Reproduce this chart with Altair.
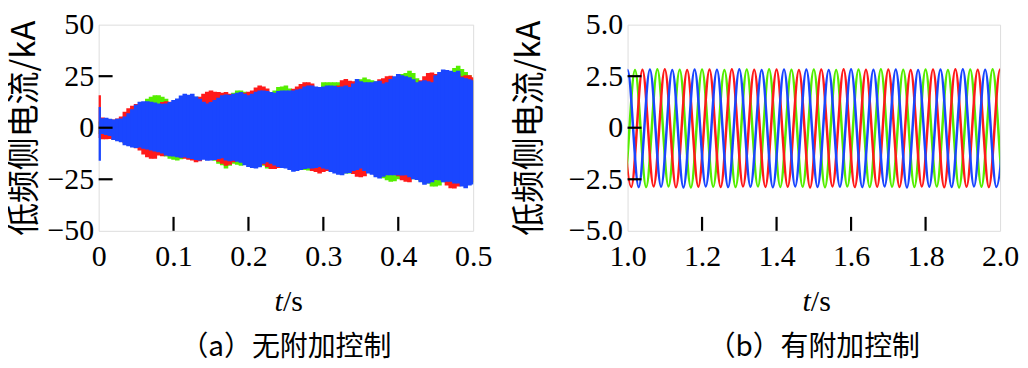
import altair as alt
import pandas as pd

# ---------------- panel (a): envelope of each phase, sampled every 5 ms (kA)
t_a = [0.000, 0.005, 0.010, 0.015, 0.020, 0.025, 0.030, 0.035, 0.040, 0.045,
       0.050, 0.055, 0.060, 0.065, 0.070, 0.075, 0.080, 0.085, 0.090, 0.095,
       0.100, 0.105, 0.110, 0.115, 0.120, 0.125, 0.130, 0.135, 0.140, 0.145,
       0.150, 0.155, 0.160, 0.165, 0.170, 0.175, 0.180, 0.185, 0.190, 0.195,
       0.200, 0.205, 0.210, 0.215, 0.220, 0.225, 0.230, 0.235, 0.240, 0.245,
       0.250, 0.255, 0.260, 0.265, 0.270, 0.275, 0.280, 0.285, 0.290, 0.295,
       0.300, 0.305, 0.310, 0.315, 0.320, 0.325, 0.330, 0.335, 0.340, 0.345,
       0.350, 0.355, 0.360, 0.365, 0.370, 0.375, 0.380, 0.385, 0.390, 0.395,
       0.400, 0.405, 0.410, 0.415, 0.420, 0.425, 0.430, 0.435, 0.440, 0.445,
       0.450, 0.455, 0.460, 0.465, 0.470, 0.475, 0.480, 0.485, 0.490, 0.495,
       0.500]

blue_hi_a = [10.0, 4.6, 4.8, 4.4, 4.0, 4.3, 4.5, 5.5, 7.0, 9.0,
             11.2, 12.6, 12.9, 12.9, 12.6, 12.2, 11.8, 11.6, 11.8, 12.5,
             13.4, 14.2, 15.6, 16.5, 16.0, 16.5, 15.2, 14.1, 12.6, 11.8,
             12.5, 13.5, 14.5, 15.7, 16.1, 16.0, 16.5, 17.0, 17.3, 16.5,
             15.7, 16.5, 17.5, 18.1, 18.0, 17.8, 17.3, 17.0, 17.8, 18.1,
             18.1, 18.0, 18.1, 18.5, 18.9, 20.0, 20.5, 20.5, 20.0, 19.7,
             20.0, 20.5, 20.5, 20.3, 19.8, 20.0, 20.5, 19.7, 21.5, 23.6,
             22.5, 22.0, 22.0, 22.0, 22.5, 22.8, 21.5, 22.0, 23.6, 25.0,
             26.0, 25.5, 25.0, 24.5, 23.5, 22.0, 22.5, 23.0, 22.5, 22.0,
             25.5, 27.0, 28.3, 28.0, 27.6, 27.0, 27.6, 24.5, 24.0, 23.5,
             23.0]
blue_lo_a = [-16.0, -3.0, -3.5, -4.0, -6.0, -6.5, -7.0, -8.5, -9.0, -9.6,
             -9.8, -9.6, -10.2, -10.6, -11.1, -11.5, -11.9, -12.5, -13.5, -13.8,
             -14.0, -14.3, -14.5, -14.3, -14.8, -15.2, -15.6, -15.9, -15.5, -16.0,
             -15.9, -15.6, -15.2, -14.8, -15.9, -16.2, -16.0, -16.5, -17.0, -18.2,
             -19.0, -19.5, -19.8, -19.2, -17.5, -16.7, -17.5, -18.3, -19.0, -19.5,
             -19.8, -20.5, -21.4, -21.0, -20.5, -20.0, -19.8, -19.8, -19.5, -19.0,
             -19.8, -20.2, -21.5, -22.2, -22.8, -23.0, -22.2, -22.0, -21.0, -20.5,
             -19.8, -21.0, -22.2, -22.8, -24.0, -24.6, -23.8, -23.0, -23.0, -23.0,
             -23.0, -23.2, -23.0, -24.0, -25.0, -25.4, -26.5, -27.7, -27.0, -26.5,
             -25.4, -25.5, -26.5, -26.2, -26.2, -27.0, -27.0, -28.5, -29.3, -28.0,
             -27.5]
red_hi_a = [15.7, 5.0, 4.5, 4.2, 4.0, 4.5, 5.5, 7.8, 9.4, 10.7,
            11.5, 11.0, 11.5, 11.2, 11.0, 11.0, 11.5, 12.5, 12.8, 12.6,
            12.0, 13.0, 14.0, 14.5, 14.5, 15.0, 14.5, 15.0, 16.5, 17.5,
            18.1, 17.5, 17.3, 17.0, 17.3, 16.5, 15.0, 15.5, 16.0, 17.0,
            17.5, 18.1, 19.5, 20.5, 20.0, 19.0, 16.5, 16.0, 16.5, 17.0,
            17.0, 17.5, 18.9, 20.0, 21.2, 22.0, 22.0, 21.5, 19.0, 18.5,
            19.0, 19.5, 19.5, 19.0, 20.5, 23.0, 23.6, 22.8, 22.5, 22.5,
            21.0, 21.0, 21.0, 21.0, 22.0, 23.5, 24.0, 25.0, 25.2, 24.0,
            24.5, 24.0, 24.0, 23.5, 22.5, 21.5, 23.0, 25.0, 26.5, 26.8,
            26.0, 25.5, 27.0, 26.5, 26.0, 26.0, 26.0, 25.0, 25.5, 25.5,
            24.5]
red_lo_a = [-5.0, -5.6, -5.6, -5.5, -5.8, -6.0, -6.5, -7.5, -8.5, -9.0,
            -10.0, -11.1, -13.0, -14.3, -15.1, -15.0, -13.5, -13.8, -13.5, -13.0,
            -13.0, -13.5, -14.5, -15.0, -15.5, -15.9, -16.7, -16.2, -15.0, -15.5,
            -15.0, -14.5, -16.5, -17.5, -18.5, -18.0, -16.8, -16.0, -16.0, -17.0,
            -18.0, -18.5, -18.5, -18.0, -18.0, -19.0, -20.0, -20.0, -19.5, -19.0,
            -19.5, -19.5, -20.0, -20.0, -19.5, -19.0, -19.0, -21.0, -21.5, -22.2,
            -21.5, -21.0, -20.5, -21.0, -21.5, -22.0, -21.5, -21.0, -22.5, -23.8,
            -24.0, -23.5, -21.5, -22.0, -23.0, -23.5, -23.0, -22.5, -22.5, -22.5,
            -23.5, -25.5, -26.2, -26.5, -24.5, -24.5, -25.5, -26.5, -26.0, -25.5,
            -25.0, -25.0, -26.0, -28.0, -29.3, -29.5, -28.5, -27.5, -27.5, -27.0,
            -26.5]
green_hi_a = [3.0, 3.5, 4.0, 4.0, 3.8, 4.0, 4.2, 5.0, 6.5, 8.5,
              10.5, 11.5, 12.5, 14.0, 15.0, 15.7, 15.7, 15.0, 14.0, 12.0,
              12.5, 13.0, 14.0, 14.5, 14.5, 14.0, 15.0, 14.8, 13.0, 12.5,
              13.0, 14.0, 14.0, 15.0, 15.5, 15.5, 17.0, 18.1, 18.1, 17.5,
              16.0, 16.0, 17.0, 17.5, 17.0, 17.0, 17.0, 18.0, 19.7, 20.0,
              20.5, 19.0, 18.0, 18.0, 18.5, 19.0, 19.5, 19.5, 19.5, 19.5,
              22.0, 22.0, 22.0, 22.0, 22.0, 21.0, 20.5, 20.5, 21.0, 22.5,
              23.5, 24.4, 23.5, 23.0, 22.5, 22.0, 21.5, 21.5, 22.5, 24.0,
              25.0, 26.0, 26.5, 27.6, 26.5, 24.0, 22.0, 22.0, 22.5, 23.0,
              25.0, 26.0, 27.0, 27.0, 27.5, 29.0, 30.0, 28.5, 27.0, 25.5,
              24.0]
green_lo_a = [-3.0, -4.0, -4.5, -5.0, -5.5, -6.0, -6.5, -7.5, -8.5, -9.0,
              -9.5, -9.5, -10.0, -10.5, -11.0, -11.5, -12.0, -12.5, -14.0, -15.1,
              -15.5, -15.9, -15.3, -14.0, -14.5, -15.0, -15.0, -15.5, -15.0, -15.5,
              -15.5, -16.0, -17.5, -18.2, -19.8, -18.5, -17.5, -18.0, -18.5, -17.5,
              -18.0, -18.5, -18.5, -18.0, -18.5, -19.8, -19.8, -19.0, -18.5, -19.0,
              -19.0, -19.5, -20.0, -20.0, -20.0, -20.5, -20.8, -20.5, -20.5, -20.5,
              -21.0, -21.0, -20.5, -21.0, -21.5, -22.0, -22.2, -22.2, -21.5, -21.0,
              -21.5, -22.0, -22.0, -22.5, -23.0, -23.5, -24.5, -25.5, -26.2, -26.0,
              -25.0, -24.5, -25.0, -25.0, -25.0, -25.0, -26.0, -27.0, -27.0, -28.5,
              -28.5, -28.0, -26.5, -26.5, -27.0, -27.5, -27.5, -28.0, -28.0, -27.5,
              -27.0]

# ---------------- panel (b): peaks / troughs of each phase (s, kA)
blue_t_b = [0.97, 1.00, 1.03, 1.06, 1.09, 1.12, 1.15, 1.18, 1.21, 1.24, 1.27, 1.30,
            1.33, 1.36, 1.39, 1.42, 1.45, 1.48, 1.51, 1.54, 1.57, 1.60, 1.63, 1.66,
            1.69, 1.72, 1.75, 1.78, 1.81, 1.84, 1.87, 1.90, 1.93, 1.96, 1.99, 2.02]
blue_v_b = [-2.85, 2.80, -2.88, 2.82, -2.86, 2.80, -2.90, 2.83, -2.85, 2.81, -2.88, 2.84,
            -2.86, 2.80, -2.89, 2.82, -2.85, 2.83, -2.87, 2.80, -2.86, 2.84, -2.88, 2.81,
            -2.85, 2.83, -2.90, 2.80, -2.86, 2.82, -2.88, 2.84, -2.85, 2.81, -2.87, 2.83]
green_t_b = [0.96, 0.99, 1.02, 1.05, 1.08, 1.11, 1.14, 1.17, 1.20, 1.23, 1.26, 1.29,
             1.32, 1.35, 1.38, 1.41, 1.44, 1.47, 1.50, 1.53, 1.56, 1.59, 1.62, 1.65,
             1.68, 1.71, 1.74, 1.77, 1.80, 1.83, 1.86, 1.89, 1.92, 1.95, 1.98, 2.01, 2.04]
green_v_b = [2.82, -2.86, 2.80, -2.88, 2.84, -2.85, 2.81, -2.90, 2.83, -2.86, 2.80, -2.88,
             2.82, -2.85, 2.84, -2.87, 2.81, -2.86, 2.83, -2.89, 2.80, -2.85, 2.82, -2.88,
             2.84, -2.86, 2.81, -2.87, 2.83, -2.85, 2.80, -2.90, 2.82, -2.86, 2.84, -2.88, 2.81]
red_t_b = [0.98, 1.01, 1.04, 1.07, 1.10, 1.13, 1.16, 1.19, 1.22, 1.25, 1.28, 1.31,
           1.34, 1.37, 1.40, 1.43, 1.46, 1.49, 1.52, 1.55, 1.58, 1.61, 1.64, 1.67,
           1.70, 1.73, 1.76, 1.79, 1.82, 1.85, 1.88, 1.91, 1.94, 1.97, 2.00, 2.03]
red_v_b = [2.83, -2.87, 2.81, -2.85, 2.84, -2.89, 2.80, -2.86, 2.82, -2.88, 2.84, -2.85,
           2.81, -2.87, 2.83, -2.86, 2.80, -2.90, 2.82, -2.85, 2.84, -2.88, 2.81, -2.86,
           2.83, -2.87, 2.80, -2.85, 2.82, -2.89, 2.84, -2.86, 2.81, -2.88, 2.83, -2.85]

# ---------------- axes / text
xa_labels = [0, 0.1, 0.2, 0.3, 0.4, 0.5]
ya_labels = [-50, -25, 0, 25, 50]
xb_labels = [1.0, 1.2, 1.4, 1.6, 1.8, 2.0]
yb_labels = [-5.0, -2.5, 0, 2.5, 5.0]
xa_ticks = [0.1, 0.2, 0.3, 0.4]
ya_ticks = [-25, 0, 25]
xb_ticks = [1.2, 1.4, 1.6, 1.8]
yb_ticks = [-2.5, 0, 2.5]
captions = ["（a）无附加控制", "（b）有附加控制"]
y_title = "低频侧电流/kA"
x_title = ["t", "/s"]

RED, GREEN, BLUE = "#FF1A1A", "#55EE00", "#1A46FF"
W_A, W_B, H = 376, 374, 207
SERIF = "Liberation Serif, DejaVu Serif, serif"
CJK = "Noto Sans CJK SC"
TICK = 14
LBL = 30


def make_axes(xdom, ydom, xvals, yvals, xexpr, yexpr, title_x):
    xs = alt.Scale(domain=xdom, nice=False, zero=False)
    ys = alt.Scale(domain=ydom, nice=False, zero=False)
    xa = alt.Axis(values=xvals, labelExpr=xexpr, ticks=False, domain=False, grid=False,
                  labelFont=SERIF, labelFontSize=LBL, labelColor="black", labelPadding=11,
                  labelFlush=False, title=None)
    ya_kw = dict(values=yvals, ticks=False, domain=False, grid=False,
                 labelFont=SERIF, labelFontSize=LBL, labelColor="black", labelPadding=5,
                 title=y_title, titleFont=CJK, titleFontSize=33, titleFontWeight="normal",
                 titleColor="black", titleAngle=270, titleX=title_x, titleY=H / 2,
                 titleAlign="center", titleBaseline="middle")
    if yexpr:
        ya_kw["labelExpr"] = yexpr
    ya = alt.Axis(**ya_kw)

    def X(f):
        return alt.X(f + ":Q", scale=xs, axis=xa)

    def Y(f):
        return alt.Y(f + ":Q", scale=ys, axis=ya)
    return X, Y


def decorations(X, Y, xticks, yticks, W, cap):
    yt = alt.Chart(pd.DataFrame({"v": yticks})).mark_rule(color="black", strokeWidth=2.2).encode(
        x=alt.value(0), x2=alt.value(TICK), y=Y("v"))
    xt = alt.Chart(pd.DataFrame({"t": xticks})).mark_rule(color="black", strokeWidth=2.2).encode(
        x=X("t"), y=alt.value(H), y2=alt.value(H - TICK))
    t1 = alt.Chart(pd.DataFrame({"s": [x_title[0]]})).mark_text(
        font=SERIF, fontSize=30, fontStyle="italic", align="right", baseline="middle", color="black"
    ).encode(text="s:N", x=alt.value(W / 2 - 3), y=alt.value(H + 71))
    t2 = alt.Chart(pd.DataFrame({"s": [x_title[1]]})).mark_text(
        font=SERIF, fontSize=30, align="left", baseline="middle", color="black"
    ).encode(text="s:N", x=alt.value(W / 2 - 3), y=alt.value(H + 71))
    c = alt.Chart(pd.DataFrame({"s": [cap]})).mark_text(
        font=CJK, fontSize=28, align="center", baseline="middle", color="black"
    ).encode(text="s:N", x=alt.value(W / 2), y=alt.value(H + 118))
    return [yt, xt, t1, t2, c]


# ---- panel (a)
Xa, Ya = make_axes([0, 0.5], [-50, 50], xa_labels, ya_labels,
                   "datum.value == 0 ? '0' : format(datum.value, '.1f')", None, -74.5)


def band(hi, lo, color):
    df = pd.DataFrame({"t": t_a, "hi": hi, "lo": lo})
    return alt.Chart(df).mark_rule(color=color, strokeWidth=4.6, clip=True).encode(
        x=Xa("t"), y=Ya("lo"), y2="hi:Q")


panel_a = alt.layer(
    band(green_hi_a, green_lo_a, GREEN),
    band(red_hi_a, red_lo_a, RED),
    band(blue_hi_a, blue_lo_a, BLUE),
    *decorations(Xa, Ya, xa_ticks, ya_ticks, W_A, captions[0]),
).properties(width=W_A, height=H)

# ---- panel (b)
Xb, Yb = make_axes([1.0, 2.0], [-5, 5], xb_labels, yb_labels,
                   "format(datum.value, '.1f')",
                   "datum.value == 0 ? '0' : format(datum.value, '.1f')", -98)


def wave(ts, vs, color):
    df = pd.DataFrame({"t": ts, "v": vs})
    return alt.Chart(df).mark_line(color=color, strokeWidth=2.5, interpolate="monotone",
                                   clip=True).encode(x=Xb("t"), y=Yb("v"))


panel_b = alt.layer(
    wave(green_t_b, green_v_b, GREEN),
    wave(red_t_b, red_v_b, RED),
    wave(blue_t_b, blue_v_b, BLUE),
    *decorations(Xb, Yb, xb_ticks, yb_ticks, W_B, captions[1]),
).properties(width=W_B, height=H)

chart = alt.hconcat(panel_a, panel_b, spacing=20).properties(
    padding={"left": 0, "top": 0, "right": 0, "bottom": 0}
).configure_view(stroke="black", strokeWidth=2.5).configure_axis(
    labelFont=SERIF, labelFontSize=LBL, labelColor="black"
).configure(background="white")

chart.save("out.html", embed_options={"renderer": "svg", "actions": False})
